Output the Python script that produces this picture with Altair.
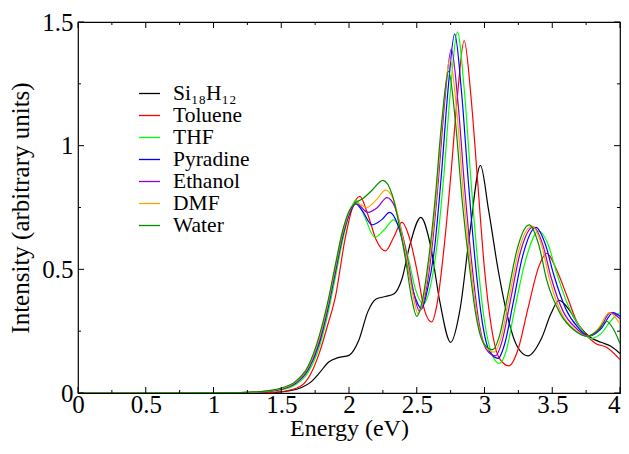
import altair as alt
import pandas as pd

# ---------------- data ----------------
names = ["Si₁₈H₁₂", "Toluene", "THF", "Pyradine", "Ethanol", "DMF", "Water"]
colors = ["#000000", "#ff0000", "#00ff00", "#0000ff", "#9400d3", "#ffa500", "#008b00"]

E_si = [0, 1.3, 1.45, 1.55, 1.65, 1.72, 1.78, 1.85, 1.92, 2.0, 2.07, 2.14, 2.2, 2.27, 2.33, 2.39,
        2.45, 2.53, 2.6, 2.67, 2.75, 2.82, 2.89, 2.97, 3.03, 3.1, 3.17, 3.24, 3.32, 3.42, 3.49,
        3.55, 3.62, 3.7, 3.78, 3.86, 3.93, 4.0]
I_si = [0, 0, 0.002, 0.008, 0.022, 0.045, 0.08, 0.125, 0.143, 0.152, 0.21, 0.33, 0.38, 0.39, 0.40, 0.46,
        0.6, 0.71, 0.6, 0.37, 0.205, 0.34, 0.64, 0.92, 0.74, 0.5, 0.31, 0.19, 0.15, 0.22, 0.32,
        0.375, 0.34, 0.27, 0.225, 0.205, 0.19, 0.16]

E_tol = [0, 1.3, 1.45, 1.55, 1.65, 1.72, 1.78, 1.84, 1.9, 1.97, 2.02, 2.08, 2.14, 2.2, 2.27, 2.33,
         2.39, 2.45, 2.5, 2.56, 2.61, 2.65, 2.7, 2.75, 2.8, 2.85, 2.9, 2.95, 3.0, 3.05, 3.11, 3.18,
         3.25, 3.32, 3.4, 3.46, 3.53, 3.61, 3.68, 3.75, 3.82, 3.9, 4.0]
I_tol = [0, 0, 0.003, 0.01, 0.03, 0.08, 0.16, 0.27, 0.39, 0.62, 0.74, 0.795, 0.72, 0.62, 0.575, 0.63,
         0.69, 0.62, 0.5, 0.33, 0.287, 0.36, 0.58, 0.87, 1.2, 1.425, 1.2, 0.85, 0.5, 0.27, 0.14, 0.11,
         0.18, 0.34, 0.51, 0.565, 0.5, 0.39, 0.29, 0.235, 0.2, 0.185, 0.135]

E_thf = [0, 1.2, 1.35, 1.5, 1.6, 1.7, 1.78, 1.84, 1.9, 1.95, 2.0, 2.05, 2.11, 2.19, 2.26, 2.33,
         2.39, 2.44, 2.49, 2.55, 2.6, 2.65, 2.7, 2.75, 2.8, 2.85, 2.9, 2.95, 3.0, 3.06, 3.11, 3.16,
         3.22, 3.3, 3.4, 3.47, 3.53, 3.62, 3.7, 3.78, 3.86, 3.93, 3.99, 4.0]
I_thf = [0, 0.002, 0.004, 0.012, 0.032, 0.085, 0.185, 0.31, 0.47, 0.61, 0.72, 0.78, 0.72, 0.63, 0.66, 0.70,
         0.64, 0.54, 0.42, 0.36, 0.43, 0.6, 0.88, 1.23, 1.46, 1.23, 0.86, 0.53, 0.29, 0.15, 0.12, 0.17,
         0.33, 0.53, 0.655, 0.6, 0.49, 0.35, 0.27, 0.22, 0.24, 0.29, 0.32, 0.32]

E_pyr = [0, 1.2, 1.35, 1.5, 1.6, 1.7, 1.78, 1.84, 1.9, 1.95, 2.0, 2.05, 2.1, 2.17, 2.24, 2.3,
         2.36, 2.41, 2.46, 2.5, 2.535, 2.58, 2.63, 2.68, 2.73, 2.78, 2.83, 2.88, 2.93, 2.98, 3.04,
         3.1, 3.15, 3.21, 3.28, 3.38, 3.45, 3.51, 3.6, 3.69, 3.77, 3.86, 3.95, 4.0]
I_pyr = [0, 0.002, 0.004, 0.015, 0.037, 0.095, 0.2, 0.33, 0.49, 0.625, 0.72, 0.765, 0.735, 0.68, 0.7, 0.73,
         0.68, 0.58, 0.44, 0.37, 0.34, 0.42, 0.58, 0.87, 1.22, 1.452, 1.22, 0.86, 0.54, 0.3, 0.165,
         0.14, 0.2, 0.36, 0.55, 0.67, 0.6, 0.48, 0.34, 0.265, 0.23, 0.26, 0.325, 0.31]

E_eth = [0, 1.2, 1.35, 1.5, 1.6, 1.7, 1.78, 1.84, 1.9, 1.95, 2.0, 2.05, 2.14, 2.21, 2.28, 2.34,
         2.39, 2.44, 2.48, 2.52, 2.56, 2.605, 2.655, 2.705, 2.755, 2.805, 2.855, 2.905, 2.955, 3.015,
         3.08, 3.13, 3.19, 3.26, 3.36, 3.43, 3.49, 3.58, 3.68, 3.76, 3.85, 3.93, 4.0]
I_eth = [0, 0.002, 0.005, 0.016, 0.04, 0.1, 0.21, 0.34, 0.5, 0.635, 0.725, 0.768, 0.73, 0.75, 0.79, 0.75,
         0.65, 0.52, 0.4, 0.33, 0.39, 0.55, 0.83, 1.17, 1.39, 1.17, 0.82, 0.53, 0.3, 0.175,
         0.15, 0.21, 0.37, 0.56, 0.672, 0.6, 0.47, 0.33, 0.26, 0.23, 0.26, 0.325, 0.3]

E_dmf = [0, 1.2, 1.35, 1.5, 1.6, 1.7, 1.78, 1.84, 1.9, 1.95, 2.0, 2.05, 2.13, 2.2, 2.27, 2.33,
         2.38, 2.43, 2.47, 2.51, 2.55, 2.595, 2.645, 2.695, 2.745, 2.795, 2.845, 2.895, 2.945, 3.005,
         3.07, 3.12, 3.18, 3.25, 3.35, 3.42, 3.48, 3.57, 3.67, 3.76, 3.84, 3.92, 4.0]
I_dmf = [0, 0.002, 0.005, 0.018, 0.042, 0.105, 0.22, 0.35, 0.51, 0.64, 0.73, 0.77, 0.75, 0.78, 0.82, 0.78,
         0.67, 0.53, 0.40, 0.32, 0.38, 0.54, 0.8, 1.14, 1.35, 1.14, 0.8, 0.53, 0.31, 0.19,
         0.165, 0.22, 0.38, 0.57, 0.675, 0.6, 0.46, 0.32, 0.255, 0.23, 0.26, 0.325, 0.28]

E_wat = [0, 1.2, 1.35, 1.5, 1.6, 1.7, 1.78, 1.84, 1.9, 1.95, 2.0, 2.05, 2.1, 2.17, 2.25, 2.32,
         2.37, 2.42, 2.46, 2.5, 2.54, 2.585, 2.635, 2.685, 2.735, 2.785, 2.835, 2.885, 2.935, 2.995,
         3.06, 3.11, 3.17, 3.24, 3.33, 3.4, 3.46, 3.56, 3.66, 3.76, 3.83, 3.9, 3.95, 4.0]
I_wat = [0, 0.002, 0.006, 0.02, 0.045, 0.11, 0.23, 0.36, 0.52, 0.65, 0.735, 0.77, 0.785, 0.82, 0.86, 0.80,
         0.68, 0.53, 0.39, 0.31, 0.37, 0.53, 0.78, 1.1, 1.30, 1.1, 0.78, 0.53, 0.32, 0.2,
         0.175, 0.23, 0.39, 0.58, 0.68, 0.6, 0.455, 0.32, 0.255, 0.23, 0.25, 0.29, 0.26, 0.2]

energies = [E_si, E_tol, E_thf, E_pyr, E_eth, E_dmf, E_wat]
intensities = [I_si, I_tol, I_thf, I_pyr, I_eth, I_dmf, I_wat]

x_major = [0, 0.5, 1, 1.5, 2, 2.5, 3, 3.5, 4]
x_minor = [0.25, 0.75, 1.25, 1.75, 2.25, 2.75, 3.25, 3.75]
y_major = [0, 0.5, 1, 1.5]
y_minor = [0.25, 0.75, 1.25]

# ---------------- build tables ----------------
rows = []
for name, E, I in zip(names, energies, intensities):
    for k, (e, i) in enumerate(zip(E, I)):
        rows.append({"series": name, "energy": e, "intensity": i, "order": k})
df = pd.DataFrame(rows)

W, H = 542, 371
FONT = "Liberation Serif"
x_scale = alt.Scale(domain=[0, 4], nice=False, zero=False)
y_scale = alt.Scale(domain=[0, 1.5], nice=False, zero=False)

x_axis = alt.Axis(values=x_major, format="~g", title="Energy (eV)", ticks=False,
                  domain=False, grid=False, labelPadding=-1, labelFlush=False,
                  labelOverlap=False, titleY=42, titleBaseline="alphabetic",
                  titleFontSize=24,
                  labelAlign={"condition": {"test": "datum.value >= 4", "value": "right"},
                              "value": "center"})
y_axis = alt.Axis(values=y_major, format="~g", title="Intensity (arbitrary units)",
                  ticks=False, domain=False, grid=False, labelPadding=5,
                  titlePadding=8, labelFlush=False, labelOverlap=False)

lines = alt.Chart(df).mark_line(interpolate="monotone", strokeWidth=1.2, clip=True).encode(
    x=alt.X("energy:Q", scale=x_scale, axis=x_axis),
    y=alt.Y("intensity:Q", scale=y_scale, axis=y_axis),
    color=alt.Color("series:N", sort=names,
                    scale=alt.Scale(domain=names, range=colors),
                    legend=alt.Legend(title=None, orient="none", legendX=60, legendY=60,
                                      symbolType="stroke", symbolSize=441,
                                      symbolStrokeWidth=1.3, labelFont=FONT, labelFontSize=21.5,
                                      labelColor="black", rowPadding=0, labelOffset=12,
                                      padding=0)),
    order="order:Q",
)

def xticks(vals, length, top):
    d = pd.DataFrame({"energy": vals})
    if top:
        y0, y1 = 0, length
    else:
        y0, y1 = H, H - length
    return alt.Chart(d).mark_rule(color="black", strokeWidth=1).encode(
        x=alt.X("energy:Q", scale=x_scale, axis=x_axis),
        y=alt.value(y0), y2=alt.value(y1))

def yticks(vals, length, right):
    d = pd.DataFrame({"intensity": vals})
    if right:
        x0, x1 = W, W - length
    else:
        x0, x1 = 0, length
    return alt.Chart(d).mark_rule(color="black", strokeWidth=1).encode(
        y=alt.Y("intensity:Q", scale=y_scale, axis=y_axis),
        x=alt.value(x0), x2=alt.value(x1))

chart = alt.layer(
    lines,
    xticks(x_major, 6, False), xticks(x_major, 6, True),
    xticks(x_minor, 3, False), xticks(x_minor, 3, True),
    yticks(y_major, 6, False), yticks(y_major, 6, True),
    yticks(y_minor, 3, False), yticks(y_minor, 3, True),
).properties(
    width=W, height=H,
    autosize=alt.AutoSizeParams(type="none"),
    padding={"left": 70, "top": 14, "right": 1, "bottom": 49},
    background="white",
).configure_view(
    stroke="black", strokeWidth=1.2
).configure_axis(
    labelFont=FONT, labelFontSize=25, labelColor="black",
    titleFont=FONT, titleFontSize=25, titleFontWeight="normal", titleColor="black",
)

chart.save("out.html", embed_options={"renderer": "svg", "actions": False})
